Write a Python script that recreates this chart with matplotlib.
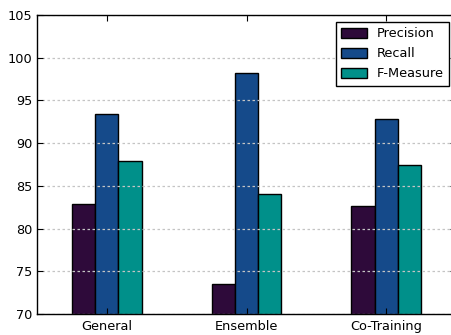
import matplotlib
matplotlib.use("Agg")
import matplotlib.pyplot as plt
import numpy as np

categories = ["General", "Ensemble", "Co-Training"]
series_names = ["Precision", "Recall", "F-Measure"]
precision = [82.9, 73.5, 82.65]
recall = [93.45, 98.2, 92.8]
f_measure = [87.9, 84.0, 87.4]
colors = ["#2e0a3a", "#154a8a", "#00908a"]

W, H = 451, 335
fig = plt.figure(figsize=(W / 100, H / 100), dpi=100)
ax = fig.add_axes([37 / W, 1 - 314 / H, (456 - 37) / W, (314 - 15) / H])

x = np.arange(len(categories))
width = 0.5 / 3
for i, (vals, name, c) in enumerate(zip([precision, recall, f_measure], series_names, colors)):
    ax.bar(x + (i - 1) * width, vals, width, color=c, edgecolor="black",
           linewidth=1.0, label=name, zorder=1)

ax.set_xlim(-0.5, 2.5)
ax.set_ylim(70, 105)
ax.set_yticks(np.arange(70, 106, 5))
ax.set_xticks(x)
ax.set_xticklabels(categories)
ax.yaxis.grid(True, linestyle=(0, (2, 2)), color="#c4c4c4", linewidth=0.9, zorder=2)
ax.set_axisbelow(False)
for gl in ax.get_ygridlines():
    gl.set_zorder(2)
ax.tick_params(direction="in", top=True, right=True, labelsize=9.3, length=4)
ax.tick_params(axis="x", pad=4)
for s in ax.spines.values():
    s.set_linewidth(1.0)
    s.set_zorder(4)

leg = ax.legend(loc="upper right", bbox_to_anchor=(449 / W, 1 - 22 / H),
                bbox_transform=fig.transFigure, borderaxespad=0, fancybox=False,
                framealpha=1, edgecolor="black", fontsize=9.3, handlelength=2.0,
                handleheight=0.85, labelspacing=0.55)
leg.get_frame().set_linewidth(1.0)
leg.set_zorder(5)

fig.savefig("out.png", dpi=100)
